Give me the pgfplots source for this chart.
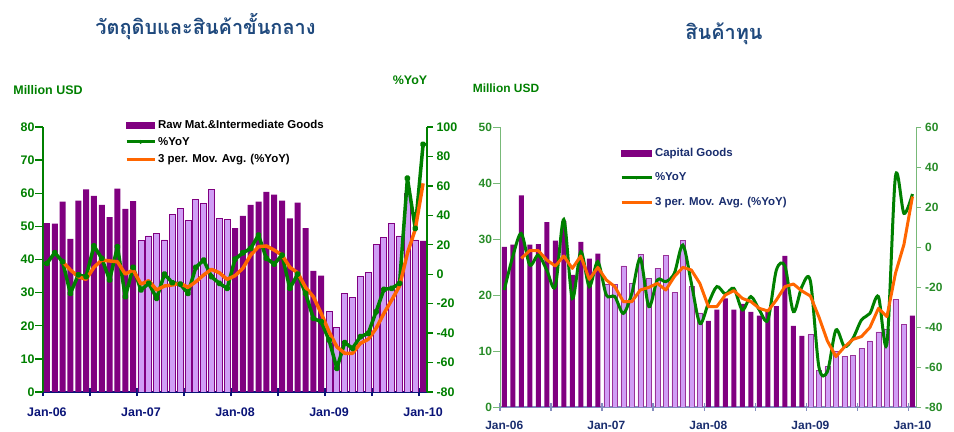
\documentclass[border=0pt]{standalone}
\usepackage{pgfplots}
\pgfplotsset{compat=1.18}
\usepackage{pgfplotstable}
\usepackage{fontspec}
\setmainfont{Liberation Sans}
\newfontfamily\thaifont[Script=Thai]{Loma}
\definecolor{dpurple}{RGB}{128,0,128}
\definecolor{lpurple}{RGB}{208,158,245}
\definecolor{ggreen}{RGB}{0,128,0}
\definecolor{lblgreen}{RGB}{40,140,40}
\definecolor{axgreen}{RGB}{120,185,120}
\definecolor{oorange}{RGB}{255,102,0}
\definecolor{navy}{RGB}{10,20,120}
\definecolor{tnavy}{RGB}{31,73,125}
\definecolor{lnavy}{RGB}{25,45,110}
\definecolor{axblue}{RGB}{130,140,190}

\pgfplotstableread{
x y
0 51.0
1 50.8
2 57.5
3 46.2
4 57.8
5 61.2
6 59.2
7 56.5
8 52.8
9 61.4
10 55.3
11 57.6
24 49.5
25 53.2
26 56.5
27 57.5
28 60.4
29 59.6
30 57.8
31 52.4
32 57.2
33 49.5
34 36.6
35 35.1
48 45.6
}\LDark
\pgfplotstableread{
x y
12 45.7
13 47.1
14 47.9
15 45.9
16 53.7
17 55.4
18 51.7
19 58.0
20 57.0
21 61.0
22 52.3
23 52.0
36 24.3
37 19.5
38 29.8
39 28.5
40 35.0
41 36.0
42 44.6
43 46.6
44 51.0
45 47.1
46 60.0
47 45.9
}\LLight
\pgfplotstableread{
x y
0 7.4
1 14.6
2 8.5
3 -13.0
4 -0.5
5 -1.7
6 19.2
7 10.8
8 -3.9
9 18.7
10 -15.3
11 4.7
12 -10.7
13 -6.2
14 -16.4
15 0.1
16 -5.8
17 -6.7
18 -13.0
19 4.7
20 9.6
21 -1.7
22 -6.2
23 -9.6
24 10.2
25 14.5
26 17.5
27 26.6
28 10.8
29 6.9
30 13.0
31 -9.6
32 0.1
33 -13.0
34 -30.0
35 -32.3
36 -44.7
37 -63.9
38 -46.5
39 -50.3
40 -42.4
41 -40.2
42 -25.5
43 -10.3
44 -9.6
45 -6.2
46 65.2
47 31.2
48 88.2
}\LYoY
\pgfplotstableread{
x y
2 8.5
3 2.9
4 -1.7
5 -3.5
6 4.7
7 9.6
8 9.0
9 8.5
10 0.1
11 2.9
12 -6.7
13 -4.4
14 -10.7
15 -8.0
16 -7.3
17 -6.2
18 -8.9
19 -5.1
20 -0.5
21 3.3
22 1.0
23 -3.5
24 -1.0
25 4.0
26 13.0
27 18.7
28 19.2
29 16.4
30 13.0
31 4.7
32 1.0
33 -8.9
34 -15.3
35 -26.6
36 -39.1
37 -49.3
38 -53.7
39 -53.7
40 -47.0
41 -44.2
42 -36.8
43 -26.6
44 -17.5
45 -8.0
46 14.2
47 30.5
48 61.7
}\LMA
\pgfplotstableread{
x y
0 28.6
1 29.0
2 37.8
3 29.0
4 29.1
5 33.0
6 29.7
7 33.2
8 23.6
9 29.5
10 26.5
11 27.4
24 15.4
25 17.4
26 19.4
27 17.4
28 18.4
29 17.0
30 16.3
31 17.0
32 18.0
33 27.0
34 14.5
35 12.7
48 16.3
}\RDark
\pgfplotstableread{
x y
12 22.0
13 21.9
14 25.2
15 22.1
16 27.3
17 23.0
18 24.8
19 27.1
20 20.4
21 29.8
22 21.5
23 16.8
36 12.9
37 6.6
38 7.2
39 10.0
40 9.1
41 9.2
42 10.4
43 11.8
44 13.4
45 13.9
46 19.2
47 14.7
}\RLight
\pgfplotstableread{
x y
0 -21.5
1 -4.8
2 6.8
3 -9.0
4 -4.0
5 -11.5
6 -19.8
7 13.8
8 -25.7
9 -2.3
10 -19.8
11 -7.3
12 -24.0
13 -24.8
14 -33.2
15 -23.2
16 -5.7
17 -29.8
18 -16.5
19 -17.3
20 -13.2
21 1.0
22 -18.0
23 -38.2
24 -28.2
25 -19.8
26 -23.5
27 -20.7
28 -31.5
29 -24.8
30 -31.5
31 -36.5
32 -11.5
33 -9.5
34 -32.3
35 -19.8
36 -17.0
37 -60.0
38 -62.3
39 -41.5
40 -49.8
41 -45.7
42 -36.5
43 -33.2
44 -24.8
45 -48.2
46 35.2
47 16.8
48 26.5
}\RYoY
\pgfplotstableread{
x y
2 -5.7
3 -1.8
4 -1.8
5 -6.5
6 -9.5
7 -4.5
8 -10.7
9 -4.5
10 -16.2
11 -10.2
12 -16.5
13 -19.8
14 -27.3
15 -27.3
16 -21.5
17 -20.2
18 -18.2
19 -21.5
20 -14.8
21 -10.2
22 -11.5
23 -18.2
24 -29.8
25 -29.8
26 -24.0
27 -21.8
28 -25.7
29 -27.3
30 -30.7
31 -32.0
32 -26.5
33 -19.8
34 -18.5
35 -22.0
36 -24.5
37 -35.0
38 -47.0
39 -54.8
40 -50.0
41 -46.2
42 -44.8
43 -40.2
44 -30.7
45 -34.8
46 -13.2
47 1.3
48 25.2
}\RMA

\pgfplotsset{
  common/.style={
    scale only axis, anchor=south west,
    xmin=-0.5, xmax=48.5,
    /pgf/number format/assume math mode=true,
  },
}

\begin{document}
\begin{tikzpicture}
\path (0,0) rectangle (954bp,432bp);

% ---------------- Left chart: bars ----------------
\begin{axis}[common,
  at={(43bp,40bp)}, width=384bp, height=265bp,
  ymin=0, ymax=80, ytick={0,10,...,80},
  axis y line*=left, axis x line*=bottom,
  y axis line style={ggreen, line width=1.6bp},
  x axis line style={navy, line width=2bp},
  tick align=center,
  major tick length=8bp,
  ytick style={ggreen, line width=1.4bp, xshift=-4bp},
  xtick={-0.5,5.5,...,47.5}, xticklabels={},
  xtick style={navy, line width=1.6bp},
  extra x ticks={0,12,24,36,48},
  extra x tick labels={Jan-06,Jan-07,Jan-08,Jan-09,Jan-10},
  extra x tick style={major tick length=0pt,
     tick label style={font=\bfseries\fontsize{12.5}{13}\selectfont, text=navy, yshift=-12bp}},
  yticklabel style={font=\bfseries\fontsize{12.5}{13}\selectfont, text=ggreen, xshift=-1bp},
  legend style={at={(rel axis cs:0.2135,1.035)}, anchor=north west, draw=none, fill=none,
     font=\bfseries\fontsize{11.5}{12}\selectfont, row sep=3.5bp, inner sep=0pt},
  legend cell align=left,
]
\addplot[ybar, bar width=6bp, bar shift=0pt, fill=dpurple, draw=none, forget plot] table[x=x,y=y] {\LDark};
\addplot[ybar, bar width=6bp, bar shift=0pt, fill=lpurple, draw=dpurple, line width=0.9bp, forget plot] table[x=x,y=y] {\LLight};
\addlegendimage{legend image code/.code={\fill[dpurple] (0bp,-3bp) rectangle (28bp,3bp);}}
\addlegendentry{Raw Mat.\&Intermediate Goods}
\addlegendimage{legend image code/.code={\draw[ggreen, line width=3bp] (0bp,0bp) -- (28bp,0bp); \fill[ggreen] (14bp,0bp) circle (1.8bp);}}
\addlegendentry{\%YoY}
\addlegendimage{legend image code/.code={\draw[oorange, line width=3bp] (0bp,0bp) -- (28bp,0bp);}}
\addlegendentry{3 per. Mov. Avg. (\%YoY)}
\end{axis}

% ---------------- Left chart: lines ----------------
\begin{axis}[common,
  at={(43bp,40bp)}, width=384bp, height=265bp,
  ymin=-80, ymax=100, ytick={-80,-60,...,100},
  axis y line*=right, axis x line=none,
  y axis line style={ggreen, line width=1.6bp},
  tick align=outside, major tick length=6bp,
  ytick style={ggreen, line width=1.4bp},
  yticklabel style={font=\bfseries\fontsize{12.5}{13}\selectfont, text=ggreen},
]
\addplot[ggreen, line width=3.5bp, mark=*, mark size=1.5bp, line join=round] table[x=x,y=y] {\LYoY};
\addplot[oorange, line width=3.5bp, no marks, line join=round] table[x=x,y=y] {\LMA};
\end{axis}

% ---------------- Right chart: bars ----------------
\begin{axis}[common,
  at={(500bp,25bp)}, width=416.7bp, height=280bp,
  ymin=0, ymax=50, ytick={0,10,...,50},
  axis y line*=left, axis x line*=bottom,
  y axis line style={axgreen, line width=0.9bp},
  x axis line style={axblue, line width=1.3bp},
  tick align=center,
  major tick length=7bp,
  ytick style={axgreen, line width=0.9bp, xshift=-3.5bp},
  xtick={-0.5,5.5,...,47.5}, xticklabels={},
  xtick style={axblue, line width=1.2bp},
  extra x ticks={0,12,24,36,48},
  extra x tick labels={Jan-06,Jan-07,Jan-08,Jan-09,Jan-10},
  extra x tick style={major tick length=0pt,
     tick label style={font=\bfseries\fontsize{12}{13}\selectfont, text=lnavy, yshift=-11bp}},
  yticklabel style={font=\bfseries\fontsize{12}{13}\selectfont, text=lblgreen, xshift=-1bp},
  legend style={at={(rel axis cs:0.288,0.932)}, anchor=north west, draw=none, fill=none,
     font=\bfseries\fontsize{11.5}{12}\selectfont, text=lnavy, row sep=11bp, inner sep=0pt},
  legend cell align=left,
]
\addplot[ybar, bar width=5bp, bar shift=0pt, fill=dpurple, draw=none, forget plot] table[x=x,y=y] {\RDark};
\addplot[ybar, bar width=5bp, bar shift=0pt, fill=lpurple, draw=dpurple!80, line width=0.6bp, forget plot] table[x=x,y=y] {\RLight};
\addlegendimage{legend image code/.code={\fill[dpurple] (0bp,-3bp) rectangle (30bp,3bp);}}
\addlegendentry{Capital Goods}
\addlegendimage{legend image code/.code={\draw[ggreen, line width=2.8bp] (0bp,0bp) -- (30bp,0bp); \fill[ggreen] (15bp,0bp) circle (1.4bp);}}
\addlegendentry{\%YoY}
\addlegendimage{legend image code/.code={\draw[oorange, line width=2.8bp] (0bp,0bp) -- (30bp,0bp);}}
\addlegendentry{3 per. Mov. Avg. (\%YoY)}
\end{axis}

% ---------------- Right chart: lines ----------------
\begin{axis}[common,
  at={(500bp,25bp)}, width=416.7bp, height=280bp,
  ymin=-80, ymax=60, ytick={-80,-60,...,60},
  axis y line*=right, axis x line=none,
  y axis line style={axgreen, line width=0.9bp},
  tick align=outside, major tick length=4bp,
  ytick style={axgreen, line width=0.9bp},
  yticklabel style={font=\bfseries\fontsize{12}{13}\selectfont, text=lblgreen, xshift=1bp},
]
\addplot[ggreen, line width=3bp, smooth, tension=0.5, no marks] table[x=x,y=y] {\RYoY};
\addplot[oorange, line width=3bp, no marks, line join=round] table[x=x,y=y] {\RMA};
\end{axis}

% ---------------- Titles and unit labels ----------------
\node[text=tnavy, font=\thaifont\bfseries\fontsize{20}{22}\selectfont] at (205.5bp,405bp) {วัตถุดิบและสินค้าขั้นกลาง};
\node[text=tnavy, font=\thaifont\bfseries\fontsize{20}{22}\selectfont] at (724bp,398bp) {สินค้าทุน};
\node[text=ggreen, font=\bfseries\fontsize{12.5}{13}\selectfont] at (48bp,342bp) {Million USD};
\node[text=ggreen, font=\bfseries\fontsize{12.5}{13}\selectfont] at (410bp,352bp) {\%YoY};
\node[text=ggreen, font=\bfseries\fontsize{12}{13}\selectfont] at (506bp,344bp) {Million USD};

\pgfresetboundingbox
\path[use as bounding box] (0,0) rectangle (954bp,432bp);
\end{tikzpicture}
\end{document}
